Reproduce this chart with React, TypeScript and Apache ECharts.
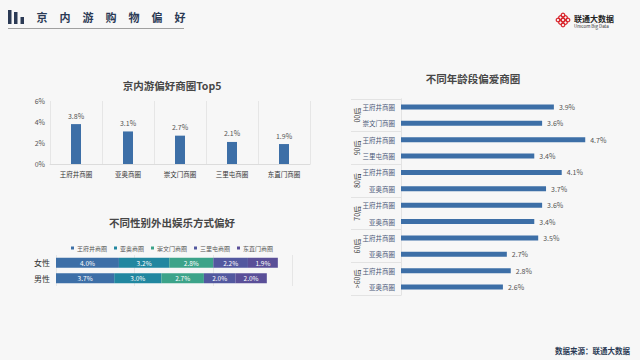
import React, { useEffect, useRef } from "react";
import * as echarts from "echarts";

// ---- data ----
const headerTitleChars = ["京", "内", "游", "购", "物", "偏", "好"];

const top5Categories = ["王府井商圈", "亚奥商圈", "崇文门商圈", "三里屯商圈", "东直门商圈"];
const top5Values = [3.8, 3.1, 2.7, 2.1, 1.9];

const genderCategories = ["女性", "男性"];
const genderSeriesNames = ["王府井商圈", "亚奥商圈", "崇文门商圈", "三里屯商圈", "东直门商圈"];
const genderWangfujing = [4.0, 3.7];
const genderYaao = [3.2, 3.0];
const genderChongwenmen = [2.8, 2.7];
const genderSanlitun = [2.2, 2.0];
const genderDongzhimen = [1.9, 2.0];
const genderValues = [genderWangfujing, genderYaao, genderChongwenmen, genderSanlitun, genderDongzhimen];

const ageGroups = ["00后", "90后", "80后", "70后", "60后", ">60后"];
const ageItemGroups = ["00后", "00后", "90后", "90后", "80后", "80后", "70后", "70后", "60后", "60后", ">60后", ">60后"];
const ageItems = ["王府井商圈", "崇文门商圈", "王府井商圈", "三里屯商圈", "王府井商圈", "亚奥商圈", "王府井商圈", "亚奥商圈", "王府井商圈", "亚奥商圈", "王府井商圈", "亚奥商圈"];
const ageValues = [3.9, 3.6, 4.7, 3.4, 4.1, 3.7, 3.6, 3.4, 3.5, 2.7, 2.8, 2.6];

const FONT = '"Noto Sans CJK SC", "Noto Sans", sans-serif';
const NAVY = "#2b3a55";
const stackColors = ["#3d6fa7", "#2187a0", "#3ca389", "#52589f", "#5a4f98"];

export default function App() {
  const ref = useRef<HTMLDivElement>(null);
  useEffect(() => {
    document.body.style.margin = "0";
    const chart = echarts.init(ref.current!, undefined, { renderer: "svg" });

    const logoDots: any[] = [];
    const dotOffsets = [
      [0, -5], [-2.5, -2.5], [2.5, -2.5], [-5, 0], [0, 0], [5, 0], [-2.5, 2.5], [2.5, 2.5], [0, 5],
    ];
    dotOffsets.forEach(([dx, dy]) => {
      logoDots.push({
        type: "ring",
        shape: { cx: 563 + dx, cy: 20 + dy, r: 2.4, r0: 1.2 },
        style: { fill: "#d8232a" },
      });
    });

    const option: any = {
      animation: false,
      backgroundColor: "#f7f7f7",
      textStyle: { fontFamily: FONT },
      graphic: [
        { type: "rect", shape: { x: 8, y: 10, width: 3.5, height: 14 }, style: { fill: NAVY } },
        { type: "rect", shape: { x: 14, y: 12, width: 3.5, height: 12 }, style: { fill: NAVY } },
        { type: "rect", shape: { x: 20.5, y: 17, width: 3.5, height: 7 }, style: { fill: NAVY } },
        ...headerTitleChars.map((c, i) => ({
          type: "text",
          x: 42 + i * 23,
          y: 17,
          style: { text: c, fill: NAVY, font: `bold 11px ${FONT}`, align: "center", verticalAlign: "middle" },
        })),
        { type: "line", shape: { x1: 8, y1: 28.5, x2: 184, y2: 28.5 }, style: { stroke: "#a0a0a0", lineWidth: 1 } },
        ...logoDots,
        { type: "text", x: 574, y: 18, style: { text: "联通大数据", fill: "#222", font: `bold 8px ${FONT}`, verticalAlign: "middle" } },
        { type: "text", x: 574, y: 26, style: { text: "Unicom Big Data", fill: "#333", font: `4.5px ${FONT}`, verticalAlign: "middle" } },
        { type: "text", x: 172, y: 85, style: { text: "京内游偏好商圈Top5", fill: "#474747", font: `bold 10.5px ${FONT}`, align: "center", verticalAlign: "middle" } },
        { type: "text", x: 172, y: 222, style: { text: "不同性别外出娱乐方式偏好", fill: "#474747", font: `bold 10.5px ${FONT}`, align: "center", verticalAlign: "middle" } },
        { type: "text", x: 473, y: 78, style: { text: "不同年龄段偏爱商圈", fill: "#474747", font: `bold 10.5px ${FONT}`, align: "center", verticalAlign: "middle" } },
        { type: "text", x: 630, y: 350, style: { text: "数据来源：联通大数据", fill: NAVY, font: `bold 7.5px ${FONT}`, align: "right", verticalAlign: "middle" } },
      ],
      legend: {
        data: genderSeriesNames,
        left: 66,
        top: 240,
        icon: "rect",
        itemWidth: 3,
        itemHeight: 3,
        itemGap: 7,
        textStyle: { fontSize: 6, color: "#555", padding: [0, 0, 0, -2] },
      },
      grid: [
        { left: 50, right: 330, top: 101, bottom: 196 },
        { left: 56, right: 348, top: 255, bottom: 74 },
        { left: 401, right: 43, top: 98.8, bottom: 64.8 },
      ],
      xAxis: [
        {
          type: "category",
          gridIndex: 0,
          data: top5Categories,
          axisLine: { lineStyle: { color: "#dcdcdc" } },
          axisTick: { show: false },
          splitLine: { show: true, lineStyle: { color: "#e6e6e6" } },
          axisLabel: { fontSize: 6.5, color: "#333", margin: 7 },
        },
        {
          type: "value",
          gridIndex: 1,
          min: 0,
          max: 15,
          interval: 5,
          axisLabel: { show: false },
          axisLine: { show: false },
          axisTick: { show: false },
          splitLine: { show: true, lineStyle: { color: "#e6e6e6" } },
        },
        {
          type: "value",
          gridIndex: 2,
          min: 0,
          max: 5,
          show: false,
          splitLine: { show: false },
        },
      ],
      yAxis: [
        {
          type: "value",
          gridIndex: 0,
          min: 0,
          max: 6,
          interval: 2,
          axisLine: { show: false },
          axisTick: { show: false },
          splitLine: { show: false },
          axisLabel: { fontSize: 7, color: "#555", margin: 5, formatter: "{value}%" },
        },
        {
          type: "category",
          gridIndex: 1,
          data: genderCategories,
          inverse: true,
          axisLine: { show: false },
          axisTick: { show: false },
          axisLabel: { fontSize: 8, color: "#333", margin: 6 },
        },
        {
          type: "category",
          gridIndex: 2,
          inverse: true,
          data: ageItems.map((n, i) => `${ageItemGroups[i]}|${n}`),
          axisLine: { show: true, lineStyle: { color: "#e3e3e3" } },
          axisTick: { show: false },
          axisLabel: {
            fontSize: 6.5,
            color: "#4a5878",
            margin: 6,
            formatter: (v: string) => v.split("|")[1],
          },
        },
        {
          type: "category",
          gridIndex: 2,
          inverse: true,
          position: "left",
          data: ageGroups,
          axisLine: { show: false },
          axisTick: { show: true, length: 50, lineStyle: { color: "#e3e3e3" } },
          axisLabel: { rotate: 90, fontSize: 7, color: "#333", margin: 41 },
        },
      ],
      series: [
        {
          type: "bar",
          xAxisIndex: 0,
          yAxisIndex: 0,
          data: top5Values,
          barWidth: 10,
          itemStyle: { color: "#3d6fa7" },
          label: { show: true, position: "top", fontSize: 7, color: "#555", formatter: (p: any) => p.value.toFixed(1) + "%" },
        },
        ...genderSeriesNames.map((name, i) => ({
          type: "bar",
          name,
          stack: "gender",
          xAxisIndex: 1,
          yAxisIndex: 1,
          data: genderValues[i],
          barWidth: 10,
          itemStyle: { color: stackColors[i] },
          label: {
            show: true,
            position: "inside",
            fontSize: 6.5,
            color: "#fff",
            formatter: (p: any) => p.value.toFixed(1) + "%",
          },
        })),
        {
          type: "bar",
          xAxisIndex: 2,
          yAxisIndex: 2,
          data: ageValues,
          barWidth: 5,
          itemStyle: { color: "#3d6fa7" },
          label: { show: true, position: "right", fontSize: 7, color: "#555", distance: 5, formatter: (p: any) => p.value.toFixed(1) + "%" },
        },
      ],
    };
    chart.setOption(option);
    return () => chart.dispose();
  }, []);
  return (
    <div
      ref={ref}
      style={{ position: "absolute", left: 0, top: 0, width: 640, height: 360, background: "#f7f7f7" }}
    />
  );
}
